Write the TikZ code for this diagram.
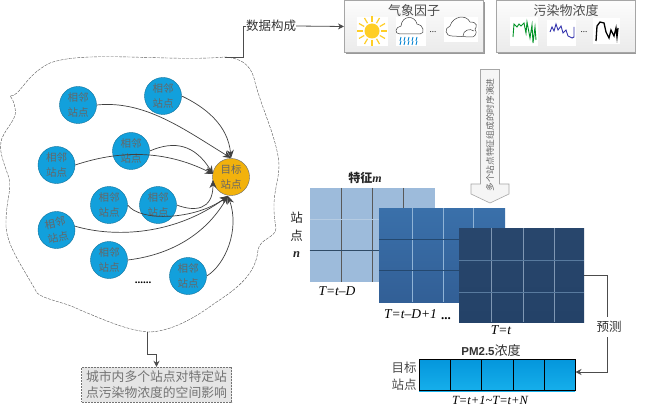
\documentclass[tikz,border=0pt]{standalone}
\usepackage{fontspec}
\setmainfont{Liberation Serif}
\newfontfamily\cjk{Noto Sans CJK SC}
\newfontfamily\pmfont{Liberation Sans}
\usetikzlibrary{arrows.meta,calc}
\definecolor{stn}{HTML}{12A0DC}
\definecolor{tgt}{HTML}{F2B20C}
\definecolor{gA}{HTML}{9DBBDB}
\definecolor{gAl}{HTML}{B5CBE2}
\definecolor{gAd}{HTML}{2F4A66}
\definecolor{gBl}{HTML}{8FB3D6}
\definecolor{gBd}{HTML}{24486F}
\definecolor{gCl}{HTML}{7F97B3}
\definecolor{gCm}{HTML}{587A9E}
\tikzset{
 x=1pt,y=-1pt,
 site/.style={circle,draw=stn!70!black,fill=stn,minimum size=37pt,inner sep=0pt,align=center,font=\cjk\fontsize{10.5}{14.5}\selectfont,text=black!60},
 targetsite/.style={site,draw=black!60,fill=tgt},
 link/.style={draw=black!75,line width=.7pt,-{Stealth[length=8pt,width=7pt]}},
 lab/.style={inner sep=0pt,font=\cjk\fontsize{12.5}{14}\selectfont,text=black!80,align=center},
 tm/.style={inner sep=0pt,font=\fontsize{13.5}{14}\selectfont\itshape,text=black},
 panel/.style={draw=black!35,top color=black!1,bottom color=black!8,line width=.6pt},
 conn/.style={draw=black!70,line width=.8pt},
}
\newcommand{\vlines}[5]{\foreach \xx in {#5} \draw[#4,line width=.6pt] (\xx,#1) -- (\xx,#2);}
\newcommand{\hlines}[5]{\foreach \yy in {#5} \draw[#4,line width=.6pt] (#1,\yy) -- (#2,\yy);}
\begin{document}
\begin{tikzpicture}
\useasboundingbox (0,0) rectangle (650,406);
\fill[white] (0,0) rectangle (650,406);
% region
\draw[black!65,line width=.4pt,dash pattern=on 3pt off 1.2pt] (225,57) .. controls (240,58) and (250,64) .. (254,78) .. controls (260,105) and (278,140) .. (279,165) .. controls (279,185) and (270,195) .. (276,228) .. controls (276,238) and (260,238) .. (258,250) .. controls (256,275) and (235,290) .. (215,303) .. controls (195,318) and (170,332) .. (148,332) .. controls (125,330) and (100,318) .. (80,310) .. controls (65,302) and (45,300) .. (37,293) .. controls (25,270) and (5,245) .. (6,223) .. controls (6,200) and (12,190) .. (9,178) .. controls (3,160) and (-2,150) .. (2,138) .. controls (8,125) and (18,118) .. (15,108) .. controls (14,102) and (12,98) .. (10,96) .. controls (20,97) and (25,75) .. (50,63) .. controls (85,50) and (170,62) .. (225,57);
% data label
\node[lab] (data) at (271,26) {数据构成};
\coordinate (regiontop) at (225,57);
\draw[conn] (regiontop) -- (243.5,57) -- (243.5,26) -- (data.west);
% sites
\node[targetsite] (T) at (231,177) {目标\\站点};
\node[site] (a) at (78,105) {相邻\\站点};
\node[site] (b) at (163,96) {相邻\\站点};
\node[site] (c) at (56.5,165) {相邻\\站点};
\node[site] (d) at (131,151) {相邻\\站点};
\node[site] (e) at (109,205) {相邻\\站点};
\node[site] (f) at (158,205) {相邻\\站点};
\node[site,rotate=12] (g) at (56.5,230) {相邻\\站点};
\node[site] (h) at (109,260) {相邻\\站点};
\node[site] (i) at (188,276) {相邻\\站点};
\node[inner sep=0pt,font=\bfseries\fontsize{11}{11}\selectfont] (dots1) at (143,283) {......};
% links
\coordinate (Tn) at (231,158);
\coordinate (Tw) at (213,174);
\coordinate (Tb) at (228,196);
\coordinate (Tl) at (213,180);
\draw[link] (a.east) .. controls (145,100) and (185,130) .. (Tn);
\draw[link] (b.east) .. controls (205,107) and (228,125) .. (Tn);
\draw[link] (c.east) .. controls (120,150) and (165,150) .. (Tw);
\draw[link] (d.east) .. controls (175,140) and (195,145) .. (Tw);
\draw[link] (e.east) .. controls (140,222) and (195,220) .. (Tb);
\draw[link] (f.east) .. controls (195,212) and (213,210) .. (Tl);
\draw[link] (g.east) .. controls (115,238) and (175,235) .. (Tb);
\draw[link] (h.east) .. controls (170,255) and (205,235) .. (Tb);
\draw[link] (i.east) .. controls (225,265) and (240,230) .. (Tb);
% impact box
\node[draw=black!55,dash pattern=on 2pt off 1pt,fill=black!10,line width=.4pt,minimum width=150pt,minimum height=35pt,inner sep=0pt,align=center,font=\cjk\fontsize{12.8}{16.5}\selectfont,text=black!55] (impact) at (156.5,384.5) {城市内多个站点对特定站\\点污染物浓度的空间影响};
\coordinate (regionbot) at (147,332);
\draw[conn,-{Stealth[length=6pt,width=6pt]}] (regionbot) -- (147,354.5) -- (156.5,354.5) -- (impact.north);
% panels
\fill[black!40] (346,2) rectangle (485,54);
\fill[black!40] (498,2) rectangle (636,54);
\node[panel,minimum width=139.5pt,minimum height=52.5pt,inner sep=0pt] (met) at (414,26.5) {};
\node[panel,minimum width=138.5pt,minimum height=52.5pt,inner sep=0pt] (pol) at (566,26.5) {};
\draw[conn,-{Stealth[length=6pt,width=6pt]}] (data.east) -- (met.west);
\node[lab,font=\cjk\fontsize{13}{13}\selectfont,text=black!70] (mett) at (414,10.5) {气象因子};
\node[lab,font=\cjk\fontsize{13}{13}\selectfont,text=black!70] (polt) at (566,10.5) {污染物浓度};
% icons' white grounds
\fill[white] (357,17) rectangle (388,46);
\fill[white] (396,17) rectangle (426,46);
\fill[white] (444,17) rectangle (478,42);
\fill[white] (510,17) rectangle (538,46);
\fill[white] (547,20) rectangle (576,46);
\fill[white] (593,18) rectangle (620,44);
% sun
\foreach \a in {0,30,...,330} \draw[orange!45!yellow!85!white,line width=1.2pt] (372,31)++(\a:9pt) -- ++(\a:6pt);
\fill[orange!45!yellow!85!white] (372,31) circle (7.5pt);
% rain cloud
\draw[black!75,line width=.5pt] (400,34) .. controls (394,34) and (395,27) .. (401,26) .. controls (402,15) and (415,15) .. (417,24) .. controls (423,24) and (426,34) .. (420,34) -- cycle;
\foreach \x in {401,405,...,417} {\draw[cyan!70!blue,line width=.9pt] (\x,37)--++(-1,4);\draw[cyan!70!blue,line width=.9pt] (\x,41)--++(-1,4);}
\node[inner sep=0pt,font=\fontsize{9}{9}\selectfont] (d2) at (433,32) {...};
% cloud
\draw[black!75,line width=.5pt] (452,36) .. controls (445,36) and (444,28) .. (450,26) .. controls (453,16) and (466,14) .. (470,22) .. controls (478,22) and (477,27) .. (475,29) .. controls (478,33) and (475,38) .. (470,37) -- cycle;
\draw[black!75,line width=.5pt] (463,36) .. controls (463,30) and (470,28) .. (474,31);
% series
\draw[green!50!black!85!cyan,line width=.9pt] (513,37) -- (514,24) -- (517,27) -- (519,24) -- (521,26) -- (524,23) -- (526,33) -- (527,22) -- (530,38) -- (532,25) -- (533,43) -- (535,27) -- (536,40);
\draw[blue!60!black!80,line width=.9pt] (550,32) -- (552,27) -- (554,31) -- (556,24) -- (558,30) -- (561,26) -- (563,33) -- (566,30) -- (568,36) -- (572,38) -- (574,37) -- (574,27);
\node[inner sep=0pt,font=\fontsize{9}{9}\selectfont] (d3) at (584,32) {...};
\draw[black,line width=1.3pt] (596,41) -- (597,26) -- (600,22) -- (604,23) -- (606,32) -- (609,38) -- (611,30) -- (614,36) -- (616,28) -- (617,37) -- (618,28);
% block arrow
\draw[draw=black!35,fill=black!4,line width=.6pt] (480.5,69.5) -- (499.5,69.5) -- (499.5,184) -- (509,184) -- (509,194) -- (490,203) -- (471,194) -- (471,184) -- (480.5,184) -- cycle;
\node[inner sep=0pt,rotate=90,font=\cjk\fontsize{8.7}{9}\selectfont,text=black!60] (balabel) at (490,135) {多个站点特征组成的时序演进};
% tensors
\fill[gA] (309.5,188) rectangle (434.5,282);
\vlines{188}{282}{}{black!65}{341,372,403}
\hlines{309.5}{434.5}{}{gAl}{219}
\hlines{309.5}{434.5}{}{gAd}{250.5}
\shade[top color={rgb,255:red,58;green,112;blue,170},bottom color={rgb,255:red,50;green,95;blue,150}] (379,208) rectangle (505,302);
\vlines{208}{302}{}{gBl}{412,443,473}
\hlines{379}{505}{}{gBd}{239,270}
\shade[top color={rgb,255:red,40;green,70;blue,108},bottom color={rgb,255:red,36;green,66;blue,104}] (459,228) rectangle (584,322);
\vlines{228}{322}{}{gCl}{491,523,554}
\hlines{459}{584}{}{gCm}{260,292}
\node[inner sep=0pt,font=\cjk\bfseries\fontsize{12}{12}\selectfont,text=black!85] (feat) at (365,177.5) {特征\textrm{\textbf{\textit{m}}}};
\node[lab,font=\cjk\fontsize{12.5}{17.5}\selectfont,text=black!85] (stn) at (296.5,235) {站\\点\\\textrm{\textbf{\textit{n}}}};
\node[tm] (t1) at (337,291.5) {T=t--D};
\node[tm] (t2) at (410.5,314) {T=t--D+1};
\node[inner sep=0pt,font=\bfseries\fontsize{13}{13}\selectfont] (t3) at (446,319) {...};
\node[tm] (t4) at (501,330.5) {T=t};
% output
\node[inner sep=0pt,font=\cjk\fontsize{13}{13}\selectfont,text=black!80] (pm) at (491,351) {{\pmfont\bfseries\fontsize{11.5}{12}\selectfont PM2.5}浓度};
\shade[top color={rgb,255:red,4;green,150;blue,220},bottom color={rgb,255:red,22;green,175;blue,235}] (419,359) rectangle (575,391);
\node[draw=black,line width=.8pt,minimum width=156pt,minimum height=31pt,inner sep=0pt] (out) at (497,375) {};
\foreach \x in {450,481.5,513,544} \draw[black,line width=.6pt] (\x,359) -- (\x,391);
\node[lab,font=\cjk\fontsize{12.5}{17}\selectfont,text=black!70] (tg) at (404,376) {目标\\站点};
\node[tm,font=\fontsize{12.5}{13}\selectfont\itshape] (tr) at (490,400) {T=t+1\textasciitilde T=t+N};
% predict
\coordinate (gridend) at (584,275);
\coordinate (outpt) at (575.5,372);
\node[lab,inner sep=2pt] (pred) at (609,327) {预测};
\draw[conn] (gridend) -- (607,275) -- (607,317);
\draw[conn,-{Stealth[length=6pt,width=6pt]}] (607,337) -- (607,372) -- (outpt);
\end{tikzpicture}
\end{document}
